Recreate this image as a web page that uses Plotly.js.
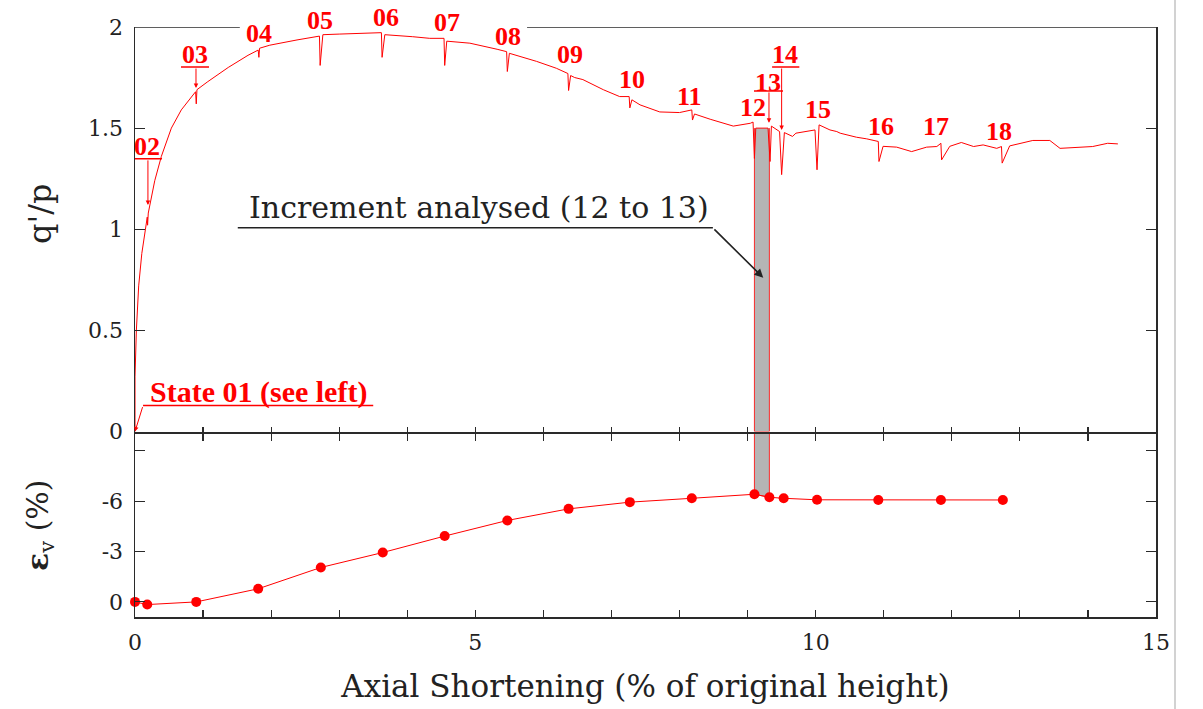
<!DOCTYPE html>
<html>
<head>
<meta charset="utf-8">
<script src="https://cdn.plot.ly/plotly-3.0.1.min.js"></script>
<style>
  html, body { margin: 0; padding: 0; background: #fff; }
  #chart { width: 1203px; height: 709px; }
</style>
</head>
<body>
<div id="chart"></div>
<script>
// Stress ratio q'/p against axial shortening (% of original height)
const shortening = [
  0, 0, 0.02, 0.054, 0.10, 0.13, 0.166, 0.18, 0.185, 0.195, 0.29, 0.387, 0.534, 0.68,
  0.89, 0.90, 0.91, 1.07, 1.37, 1.66, 1.81, 1.82, 1.83, 1.98, 2.38, 2.71, 2.72, 2.76,
  3.0, 3.62, 3.63, 3.67, 4.08, 4.33, 4.54, 4.55, 4.58, 4.92, 5.32, 5.46, 5.47, 5.50,
  5.9, 6.19, 6.36, 6.37, 6.40, 6.46, 6.58, 6.88, 7.12, 7.26, 7.27, 7.30, 7.42, 7.71,
  8.0, 8.18, 8.19, 8.22, 8.45, 8.79, 9.04, 9.08, 9.10, 9.12, 9.30, 9.33, 9.35, 9.47,
  9.50, 9.54, 9.66, 9.71, 9.99, 10.02, 10.05, 10.21, 10.31, 10.36, 10.6, 10.75, 10.92,
  10.93, 10.99, 11.19, 11.41, 11.63, 11.78, 11.84, 11.85, 11.97, 12.14, 12.32, 12.46,
  12.66, 12.73, 12.74, 12.85, 13.19, 13.44, 13.59, 14.07, 14.29, 14.44
];
const stressRatio = [
  0, 0.27, 0.50, 0.72, 0.88, 0.95, 1.04, 1.06, 1.02, 1.08, 1.24, 1.36, 1.50, 1.59,
  1.68, 1.62, 1.69, 1.73, 1.80, 1.86, 1.886, 1.85, 1.895, 1.91, 1.936, 1.955, 1.81, 1.962,
  1.965, 1.972, 1.85, 1.962, 1.952, 1.944, 1.944, 1.81, 1.93, 1.92, 1.89, 1.878, 1.78, 1.87,
  1.83, 1.796, 1.77, 1.686, 1.76, 1.75, 1.74, 1.69, 1.656, 1.656, 1.60, 1.64, 1.615, 1.58,
  1.577, 1.59, 1.54, 1.57, 1.544, 1.51, 1.524, 1.53, 1.35, 1.50, 1.50, 1.335, 1.51, 1.483,
  1.27, 1.478, 1.459, 1.475, 1.491, 1.294, 1.516, 1.491, 1.483, 1.475, 1.455, 1.447, 1.434,
  1.335, 1.41, 1.406, 1.384, 1.406, 1.409, 1.425, 1.343, 1.41, 1.429, 1.409, 1.417,
  1.40, 1.409, 1.327, 1.412, 1.439, 1.439, 1.40, 1.409, 1.425, 1.422
];

// Test states 01-18: axial shortening and volumetric strain
const stateLabels = ['01','02','03','04','05','06','07','08','09','10','11','12','13','14','15','16','17','18'];
const stateShortening = [0, 0.18, 0.90, 1.81, 2.73, 3.64, 4.55, 5.47, 6.37, 7.27, 8.18, 9.10, 9.32, 9.53, 10.02, 10.92, 11.84, 12.75];
const volStrain = [0, 0.16, 0, -0.78, -2.05, -2.94, -3.92, -4.85, -5.54, -5.94, -6.17, -6.41, -6.23, -6.17, -6.08, -6.07, -6.07, -6.07];

// q'/p at the start and end of the analysed increment (states 12 and 13)
const incrementStart = 11, incrementEnd = 12;
const incrementStress = [1.50, 1.50];

// State label positions (x in % shortening, y in q'/p units)
const labelX = [null, 0.176, 0.881, 1.822, 2.718, 3.687, 4.584, 5.480, 6.391, 7.301, 8.153, 9.078, 9.30, 9.55, 10.034, 10.959, 11.767, 12.693];
const labelY = [null, 1.407, 1.862, 1.970, 2.030, 2.049, 2.020, 1.951, 1.862, 1.738, 1.654, 1.600, 1.728, 1.862, 1.590, 1.506, 1.506, 1.481];
// States whose label sits on an underline with an arrow down to the curve
const arrowed = {1: {x: 0.19, tip: 1.12, bar: 1.348, from: -0.044, to: 0.397},
                 2: {x: 0.896, tip: 1.699, bar: 1.802, from: 0.676, to: 1.087},
                 12: {x: 9.314, tip: 1.526, bar: 1.684, from: 9.094, to: 9.52},
                 13: {x: 9.50, tip: 1.491, bar: 1.802, from: 9.36, to: 9.76}};

const RED = '#ff0000';
const SERIF = 'DejaVu Serif, serif';
const LABEL_SERIF = 'Liberation Serif, serif';
const INK = '#222';
const AXIS = '#2a2a2a';
const Q_MAX = 2;

const xa = stateShortening[incrementStart], xb = stateShortening[incrementEnd];

const traces = [
  // shaded increment, q'/p panel (outlined on its sides only)
  {x: [xa, xa, xb, xb], y: [incrementStress[0], 0, 0, incrementStress[1]],
   xaxis: 'x', yaxis: 'y', mode: 'lines', fill: 'toself', fillcolor: '#b5b5b5',
   line: {color: 'rgba(255,0,0,0.8)', width: 1}, hoverinfo: 'skip', showlegend: false},
  // shaded increment, strain panel
  {x: [xa, xa, xb, xb], y: [-10, volStrain[incrementStart], volStrain[incrementEnd], -10],
   xaxis: 'x2', yaxis: 'y2', mode: 'lines', fill: 'toself', fillcolor: '#b5b5b5',
   line: {color: 'rgba(255,0,0,0.8)', width: 1}, hoverinfo: 'skip', showlegend: false},
  {x: shortening, y: stressRatio, xaxis: 'x', yaxis: 'y', mode: 'lines',
   line: {color: RED, width: 1}, cliponaxis: false, showlegend: false},
  {x: stateShortening, y: volStrain, xaxis: 'x2', yaxis: 'y2', mode: 'lines+markers',
   line: {color: RED, width: 1}, marker: {color: RED, size: 10}, cliponaxis: false, showlegend: false}
];

const xTicks = Array.from({length: 16}, (_, i) => i);
const xTickText = xTicks.map(v => (v % 5 === 0 ? String(v) : ''));

const shapes = [];
const annotations = [];

// top frame of the q'/p panel, left open behind the labels 04-08
[[0, 1.54], [5.76, 15]].forEach(([a, b]) => shapes.push({
  type: 'line', xref: 'x', yref: 'y', x0: a, x1: b, y0: Q_MAX, y1: Q_MAX,
  line: {color: AXIS, width: 1.5}
}));

// state labels (y given as a fraction of the q'/p panel so labels above the frame still show)
stateLabels.forEach((lab, i) => {
  if (i === 0) return;
  annotations.push({xref: 'x', yref: 'y domain', x: labelX[i], y: labelY[i] / Q_MAX, text: lab,
    showarrow: false, xanchor: 'center', yanchor: 'middle',
    font: {family: LABEL_SERIF, size: 26, color: RED, weight: 'bold'}});
  const a = arrowed[i];
  if (a) {
    shapes.push({type: 'line', xref: 'x', yref: 'y', x0: a.from, x1: a.to, y0: a.bar, y1: a.bar,
      line: {color: RED, width: 1.5}});
    annotations.push({xref: 'x', yref: 'y', axref: 'x', ayref: 'y', x: a.x, y: a.tip, ax: a.x, ay: a.bar,
      text: '', showarrow: true, arrowhead: 2, arrowsize: 0.9, arrowwidth: 1, arrowcolor: RED, standoff: 0});
  }
});

// "State 01" callout
annotations.push({xref: 'x', yref: 'y', x: 1.82, y: 0.193, text: 'State 01 (see left)', showarrow: false,
  font: {family: LABEL_SERIF, size: 30, color: RED, weight: 'bold'}});
shapes.push({type: 'line', xref: 'x', yref: 'y', x0: 0.118, x1: 3.50, y0: 0.128, y1: 0.128,
  line: {color: RED, width: 1.5}});
annotations.push({xref: 'x', yref: 'y', axref: 'x', ayref: 'y', x: 0, y: 0, ax: 0.118, ay: 0.128,
  text: '', showarrow: true, arrowhead: 2, arrowsize: 0.9, arrowwidth: 1, arrowcolor: RED, standoff: 0});

// increment callout
annotations.push({xref: 'x', yref: 'y', x: 5.05, y: 1.106, text: 'Increment analysed (12 to 13)', showarrow: false,
  font: {family: SERIF, size: 30, color: INK}});
shapes.push({type: 'line', xref: 'x', yref: 'y', x0: 1.51, x1: 8.49, y0: 1.007, y1: 1.007,
  line: {color: INK, width: 1.5}});
annotations.push({xref: 'x', yref: 'y', axref: 'x', ayref: 'y', x: 9.23, y: 0.76, ax: 8.49, ay: 1.007,
  text: '', showarrow: true, arrowhead: 2, arrowsize: 1.1, arrowwidth: 1.6, arrowcolor: INK, standoff: 0});

// y axis titles
annotations.push({xref: 'paper', yref: 'paper', x: -0.093, y: 0.683, text: "q'/p", textangle: -90,
  showarrow: false, xanchor: 'center', yanchor: 'middle', font: {family: SERIF, size: 32, color: INK}});
annotations.push({xref: 'paper', yref: 'paper', x: -0.093, y: 0.156, text: '<b>ε</b><sub>v</sub> (%)', textangle: -90,
  showarrow: false, xanchor: 'center', yanchor: 'middle', font: {family: SERIF, size: 30, color: INK}});

// page edge rule on the right
shapes.push({type: 'line', xref: 'paper', yref: 'paper', x0: 1.0186, x1: 1.0186, y0: -0.2, y1: 1.1,
  line: {color: '#d2d2d2', width: 2}});

const tickFont = {family: SERIF, size: 22, color: INK};

const layout = {
  width: 1203, height: 709,
  margin: {l: 135, r: 47, t: 27, b: 92},
  paper_bgcolor: '#fff', plot_bgcolor: '#fff',
  showlegend: false,
  xaxis: {domain: [0, 1], anchor: 'y', range: [0, 15], matches: 'x2',
    tickvals: xTicks, showticklabels: false, ticks: 'inside', ticklen: 5, tickcolor: AXIS, tickwidth: 1.2,
    showline: true, linecolor: AXIS, linewidth: 1.5, mirror: false, showgrid: false, zeroline: false},
  yaxis: {domain: [0.3144, 1], anchor: 'x', range: [0, Q_MAX], tickvals: [0, 0.5, 1, 1.5, 2],
    ticktext: ['0', '0.5', '1', '1.5', '2'], ticks: 'inside', ticklen: 10, tickcolor: AXIS, tickwidth: 1.2,
    showline: true, linecolor: AXIS, linewidth: 1.5, mirror: 'ticks', showgrid: false, zeroline: false,
    tickfont: tickFont, ticklabelstandoff: 6},
  xaxis2: {domain: [0, 1], anchor: 'y2', range: [0, 15],
    tickvals: xTicks, ticktext: xTickText, ticks: 'inside', ticklen: 7, tickcolor: AXIS, tickwidth: 1.2,
    showline: true, linecolor: AXIS, linewidth: 1.5, mirror: 'allticks', showgrid: false, zeroline: false,
    tickfont: tickFont, ticklabelstandoff: 5,
    title: {text: 'Axial Shortening (% of original height)', font: {family: SERIF, size: 31, color: INK}, standoff: 21}},
  yaxis2: {domain: [0, 0.3102], anchor: 'x2', range: [0.9, -10], tickvals: [-9, -6, -3, 0],
    ticktext: ['', '-6', '-3', '0'], ticks: 'inside', ticklen: 10, tickcolor: AXIS, tickwidth: 1.2,
    showline: true, linecolor: AXIS, linewidth: 1.5, mirror: 'allticks', showgrid: false, zeroline: false,
    tickfont: tickFont, ticklabelstandoff: 6},
  shapes: shapes,
  annotations: annotations
};

Plotly.newPlot('chart', traces, layout, {staticPlot: true, displayModeBar: false});
</script>
</body>
</html>
